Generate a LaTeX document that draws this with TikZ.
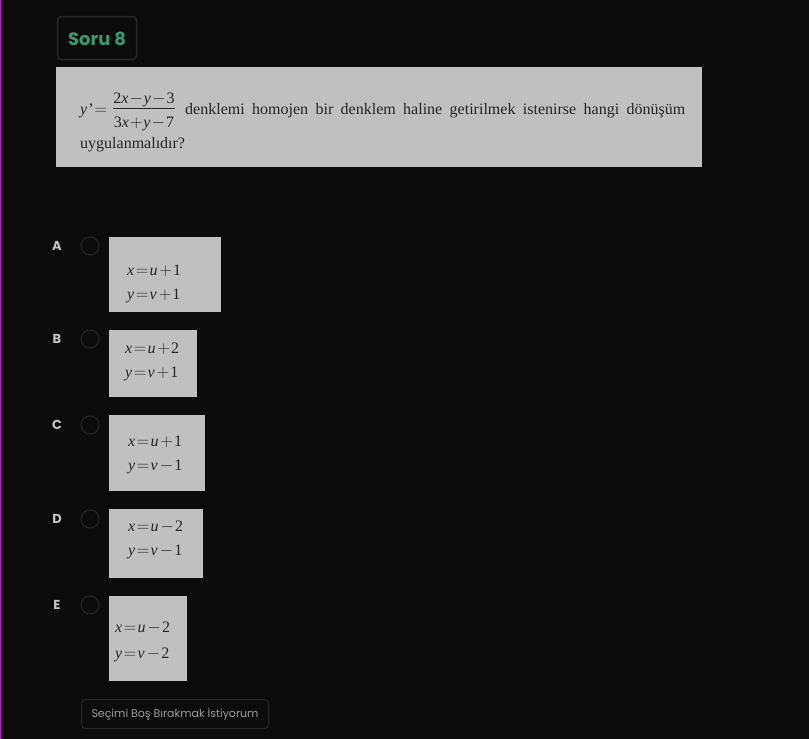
\documentclass[tikz,border=0pt]{standalone}
\usepackage{fontspec}
\setmainfont{Liberation Serif}
\newfontfamily\pop{Poppins}
\definecolor{bgc}{HTML}{0B0B0B}
\definecolor{boxgray}{HTML}{C0C0C0}
\definecolor{inkc}{HTML}{262626}
\definecolor{greenc}{HTML}{3A9A6B}
\definecolor{bordc}{HTML}{262626}
\definecolor{labc}{HTML}{C4C4C4}
\definecolor{btnc}{HTML}{9C9C9C}
\definecolor{edgec}{HTML}{C020C0}
\newcommand\vi[1]{\textit{#1}}
\newcommand\eqx[3]{\vi{#1}\kern1.5pt$=$\kern1.5pt\vi{#2}\kern2pt$#3$\kern1pt}
\begin{document}
\begin{tikzpicture}[x=1pt,y=-1pt,
  graybox/.style={fill=boxgray,draw=none},
  opttext/.style={anchor=base west,inner sep=0pt,text=inkc,font=\fontsize{16}{18}\selectfont},
  qtext/.style={anchor=base west,inner sep=0pt,text=inkc,font=\fontsize{16}{18}\selectfont},
  optlab/.style={inner sep=0pt,text=labc,font=\pop\bfseries\fontsize{13}{15}\selectfont},
  radio/.style={circle,draw=bordc,line width=1pt,minimum size=18pt,inner sep=0pt}]
\useasboundingbox (0,0) rectangle (809,739);
\fill[bgc] (0,0) rectangle (809,739);
\fill[edgec] (0,0) rectangle (1.2,739);

% title
\draw[bordc,line width=1.5pt,rounded corners=4pt] (57.5,16.5) rectangle (136.5,59.5);
\node[inner sep=0pt,text=greenc,font=\pop\bfseries\fontsize{18}{20}\selectfont] (title) at (97,38.5) {Soru 8};

% question
\fill[boxgray] (56,67) rectangle (702,167);
\node[qtext] (yp) at (80,114) {\vi{y}\kern1pt{\char"0027}\kern1pt$=$};
\node[qtext,anchor=base] (num) at (144,103) {2\vi{x}\kern1pt$-$\kern1pt\vi{y}\kern1pt$-$\kern1pt3};
\node[qtext,anchor=base] (den) at (144,127) {3\vi{x}\kern1pt$+$\kern1pt\vi{y}\kern1pt$-$\kern1pt7};
\draw[inkc,line width=0.7pt] (113,108.5) -- (175,108.5);
\node[qtext] (l1) at (185,114) {\makebox[500pt][s]{denklemi homojen bir denklem haline getirilmek istenirse hangi dönüşüm}};
\node[qtext] (l2) at (80,148) {uygulanmalıdır?};

% options
\foreach \L/\yy in {A/246,B/339,C/425,D/519,E/605}{
  \node[optlab] (lab\L) at (57,\yy) {\L};
  \node[radio] (rad\L) at (90,\yy) {};
}
% A
\fill[boxgray] (109,237) rectangle (221,312);
\node[opttext] (a1) at (127,275.5) {\eqx{x}{u}{+}1};
\node[opttext] (a2) at (127,299.5) {\eqx{y}{v}{+}1};
% B
\fill[boxgray] (109,330) rectangle (197,397);
\node[opttext] (b1) at (125,353.5) {\eqx{x}{u}{+}2};
\node[opttext] (b2) at (125,377.5) {\eqx{y}{v}{+}1};
% C
\fill[boxgray] (109,415) rectangle (205,491);
\node[opttext] (c1) at (128,446.5) {\eqx{x}{u}{+}1};
\node[opttext] (c2) at (128,470.5) {\eqx{y}{v}{-}1};
% D
\fill[boxgray] (109,509) rectangle (203,578);
\node[opttext] (d1) at (128,531.5) {\eqx{x}{u}{-}2};
\node[opttext] (d2) at (128,555.5) {\eqx{y}{v}{-}1};
% E
\fill[boxgray] (109,596) rectangle (187,681);
\node[opttext] (e1) at (115,632.5) {\eqx{x}{u}{-}2};
\node[opttext] (e2) at (115,658.5) {\eqx{y}{v}{-}2};

% button
\draw[bordc,line width=1pt,rounded corners=4pt] (81.5,699.5) rectangle (268.5,728.5);
\node[inner sep=0pt,text=btnc,font=\pop\fontsize{11}{13}\selectfont] (btn) at (175,714.5) {Seçimi Boş Bırakmak İstiyorum};
\end{tikzpicture}
\end{document}
